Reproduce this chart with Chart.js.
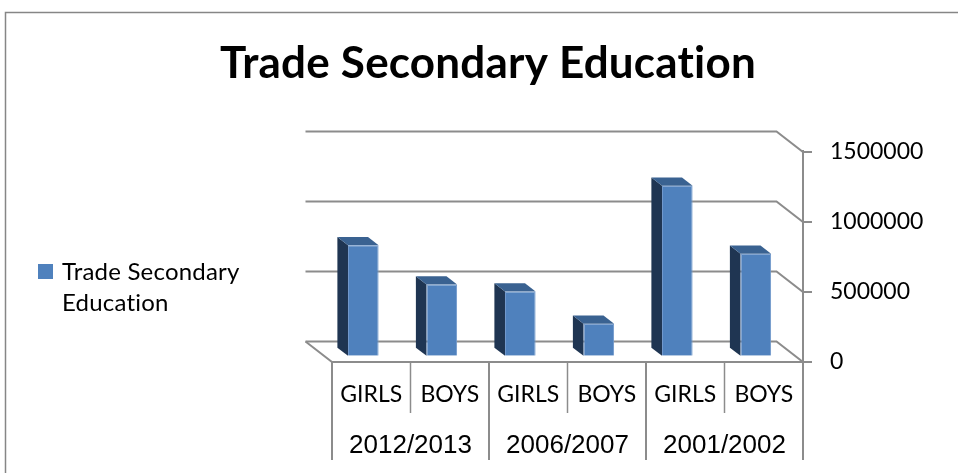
<!DOCTYPE html>
<html>
<head>
<meta charset="utf-8">
<script src="https://cdn.jsdelivr.net/npm/chart.js@4.4.0/dist/chart.umd.min.js"></script>
<style>
  html, body { margin: 0; padding: 0; background: #fff; overflow: hidden; }
</style>
</head>
<body>
<canvas id="tradeChart" width="958" height="473"></canvas>
<script>
const chartTitle = "Trade Secondary Education";
const seriesName = "Trade Secondary Education";
const years = ["2012/2013", "2006/2007", "2001/2002"];
const genders = ["GIRLS", "BOYS", "GIRLS", "BOYS", "GIRLS", "BOYS"];
const enrolment = [790000, 510000, 460000, 230000, 1215000, 730000];
const yMax = 1500000;
const yStep = 500000;

const FRONT = "#4f81bd", SIDE = "#1f3552", TOP = "#3a6291";
const LINE = "#8c8c8c";
const DX = 26.5, DY = 20.5;    // floor depth; the back wall sits up and to the left
const NEAR = 0.3, FAR = 0.7;   // bar front / back faces as a share of that depth
const bodyFont = "Lato, 'Open Sans', sans-serif";
const yearFont = "'Liberation Sans', Arial, sans-serif";

function line(ctx, pts) {
  ctx.beginPath();
  ctx.moveTo(pts[0][0], pts[0][1]);
  for (let i = 1; i < pts.length; i++) ctx.lineTo(pts[i][0], pts[i][1]);
  ctx.stroke();
}

function poly(ctx, pts, fill) {
  ctx.beginPath();
  ctx.moveTo(pts[0][0], pts[0][1]);
  for (let i = 1; i < pts.length; i++) ctx.lineTo(pts[i][0], pts[i][1]);
  ctx.closePath();
  ctx.fillStyle = fill;
  ctx.fill();
}

// frame, back wall gridlines, side wall and floor
const wallPlugin = {
  id: "wall",
  beforeDraw(chart) {
    const { ctx, chartArea: a } = chart;
    const ys = chart.scales.y;
    ctx.save();
    ctx.fillStyle = "#fff";
    ctx.fillRect(0, 0, chart.width, chart.height);

    ctx.strokeStyle = "#868686";
    ctx.lineWidth = 1.5;
    ctx.strokeRect(5.5, 12.5, 2000, 2000);

    ctx.strokeStyle = LINE;
    ctx.lineWidth = 2;
    ys.ticks.forEach(t => {
      const yf = ys.getPixelForValue(t.value);
      const yb = yf - DY;
      line(ctx, [[a.left - DX, yb], [a.right - DX, yb], [a.right, yf], [a.right + 9, yf]]);
    });
    // floor: left edge and front edge
    const y0 = ys.getPixelForValue(0);
    line(ctx, [[a.left - DX, y0 - DY], [a.left, y0], [a.right, y0]]);
    ctx.restore();
  }
};

// side and top faces of each column; the front face is the Chart.js bar itself
const columnPlugin = {
  id: "columns",
  beforeDatasetsDraw(chart) {
    const ctx = chart.ctx;
    ctx.save();
    ctx.translate(-DX * NEAR, -DY * NEAR);
    const ddx = DX * (FAR - NEAR), ddy = DY * (FAR - NEAR);
    chart.getDatasetMeta(0).data.forEach(bar => {
      const { x, y, base, width } = bar.getProps(["x", "y", "base", "width"], true);
      const x0 = x - width / 2, x1 = x + width / 2;
      poly(ctx, [[x0, y], [x0, base], [x0 - ddx, base - ddy], [x0 - ddx, y - ddy]], SIDE);
      poly(ctx, [[x0, y], [x1, y], [x1 - ddx, y - ddy], [x0 - ddx, y - ddy]], TOP);
    });
  },
  afterDatasetsDraw(chart) {
    chart.ctx.restore();
  }
};

// category table lines, value axis line, title and legend
const framePlugin = {
  id: "frame",
  afterDraw(chart) {
    const { ctx, chartArea: a } = chart;
    const xs = chart.scales.x, x2 = chart.scales.x2;
    ctx.save();
    ctx.strokeStyle = LINE;

    ctx.lineWidth = 2;
    line(ctx, [[a.right, a.top - 2], [a.right, a.bottom + 98]]);
    const gHalf = (x2.getPixelForValue(1) - x2.getPixelForValue(0)) / 2;
    for (let i = 0; i < years.length; i++) {
      const gx = x2.getPixelForValue(i) - gHalf;
      line(ctx, [[gx, a.bottom], [gx, a.bottom + 98]]);
    }
    ctx.lineWidth = 1.5;
    const cHalf = (xs.getPixelForValue(1) - xs.getPixelForValue(0)) / 2;
    for (let i = 0; i < genders.length; i += 2) {
      const cx = xs.getPixelForValue(i) + cHalf;
      line(ctx, [[cx, a.bottom], [cx, a.bottom + 51]]);
    }

    // a tiny letter spacing keeps Lato from joining "ti"
    ctx.letterSpacing = "0.2px";
    ctx.fillStyle = "#000";
    ctx.textBaseline = "middle";
    ctx.textAlign = "center";
    ctx.font = "bold 44px " + bodyFont;
    ctx.fillText(chartTitle, 488, 64);

    ctx.fillStyle = FRONT;
    ctx.fillRect(38, 264, 15, 15);
    ctx.fillStyle = "#000";
    ctx.textAlign = "left";
    ctx.font = "24px " + bodyFont;
    const words = seriesName.split(" ");
    const rows = [];
    let cur = "";
    words.forEach(w => {
      const test = cur ? cur + " " + w : w;
      if (cur && ctx.measureText(test).width > 200) { rows.push(cur); cur = w; }
      else cur = test;
    });
    rows.push(cur);
    rows.forEach((r, i) => ctx.fillText(r, 62, 272 + i * 31));
    ctx.restore();
  }
};

new Chart(document.getElementById("tradeChart"), {
  type: "bar",
  data: {
    labels: genders,
    datasets: [{
      label: seriesName,
      data: enrolment,
      backgroundColor: FRONT,
      borderColor: "#7299cc",
      borderWidth: 1,
      barPercentage: 0.39,
      categoryPercentage: 1,
      xAxisID: "x",
      yAxisID: "y"
    }]
  },
  options: {
    responsive: false,
    animation: false,
    layout: { padding: { left: 332, top: 152, right: 0, bottom: 0 } },
    plugins: {
      legend: { display: false },
      title: { display: false },
      tooltip: { enabled: false }
    },
    scales: {
      x: {
        position: "bottom",
        weight: 0,
        grid: { display: false, drawTicks: false },
        border: { display: false },
        ticks: {
          padding: 19, color: "#000", maxRotation: 0, autoSkip: false,
          font: { family: bodyFont, size: 23 }
        },
        afterFit: s => { s.height = 50; }
      },
      x2: {
        type: "category",
        labels: years,
        position: "bottom",
        weight: 1,
        offset: true,
        grid: { display: false, drawTicks: false },
        border: { display: false },
        ticks: {
          padding: 18, color: "#000", maxRotation: 0, autoSkip: false,
          font: { family: yearFont, size: 26 }
        },
        afterFit: s => { s.height = 61; }
      },
      y: {
        position: "right",
        min: 0,
        max: yMax,
        grid: { display: false, drawTicks: false },
        border: { display: false },
        ticks: {
          stepSize: yStep,
          padding: 27,
          color: "#000",
          font: { family: bodyFont, size: 23 },
          callback: v => String(v)
        },
        afterFit: s => { s.width = 155; }
      }
    }
  },
  plugins: [wallPlugin, columnPlugin, framePlugin]
});
</script>
</body>
</html>
